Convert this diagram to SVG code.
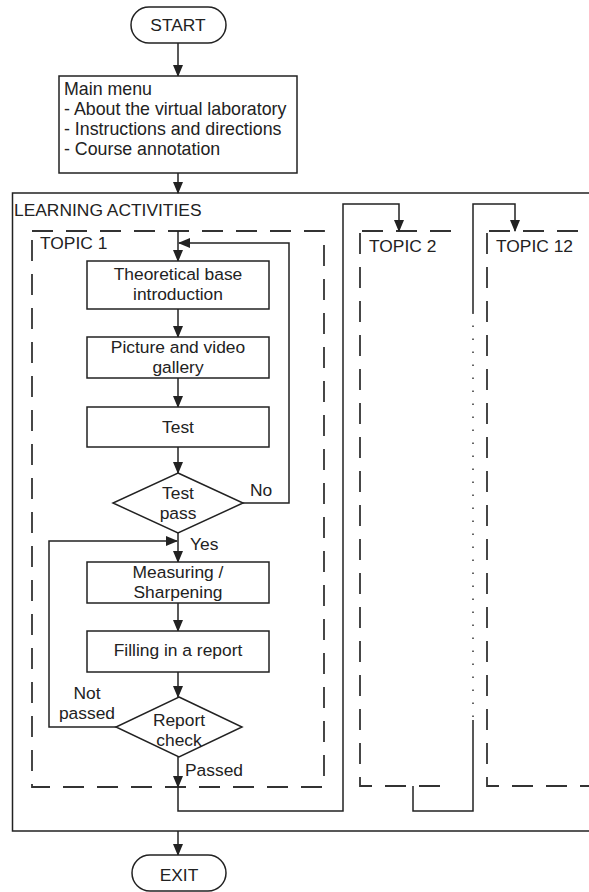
<svg xmlns="http://www.w3.org/2000/svg" width="589" height="892" viewBox="0 0 589 892">
<defs>
<marker id="ah" markerUnits="userSpaceOnUse" markerWidth="12" markerHeight="10" viewBox="0 0 12 10" refX="11" refY="5" orient="auto">
<path d="M0,0 L12,5 L0,10 Z" fill="#222"/>
</marker>
<style>
.box{fill:#fff;stroke:#222;stroke-width:1.5}
.frame{fill:none;stroke:#222;stroke-width:1.5}
.dash{fill:none;stroke:#333;stroke-width:1.8;stroke-dasharray:21 13}
.con{fill:none;stroke:#222;stroke-width:1.5}
.arr{marker-end:url(#ah)}
.dot{fill:none;stroke:#333;stroke-width:1.5;stroke-dasharray:1.5 11.5}
text{font-family:"Liberation Sans",Arial,sans-serif;font-size:17.4px;fill:#222}
.c{text-anchor:middle}
.mm{font-size:17.8px}
</style>
</defs>
<rect width="589" height="892" fill="#fff"/>

<g id="learning-activities">
<path class="frame" d="M589,193 H12.5 V831 H589"/>
<text x="14" y="216">LEARNING ACTIVITIES</text>
</g>
<g id="topic1">
<rect class="dash" x="32" y="231" width="292" height="556"/>
<text x="40" y="249">TOPIC 1</text>
</g>
<g id="topic2">
<path class="dash" d="M362,231 H460 M360,233 V786 H450"/>
<text x="369" y="252">TOPIC 2</text>
</g>
<g id="topic12">
<path class="dash" d="M489,231 H589 M487,233 V786 H589"/>
<text x="496" y="252">TOPIC 12</text>
</g>

<g id="connectors">
<path class="con arr" d="M178,43 V76"/>
<path class="con arr" d="M178,173 V193"/>
<path class="con arr" d="M178,231 V261"/>
<path class="con arr" d="M178,309 V337"/>
<path class="con arr" d="M178,378 V407"/>
<path class="con arr" d="M178,447 V473"/>
<path class="con arr" d="M243,503 H289 V243 H179"/>
<path class="con arr" d="M178,533 V562"/>
<path class="con arr" d="M178,603 V631"/>
<path class="con arr" d="M178,672 V697"/>
<path class="con arr" d="M116,727 H49 V541 H177"/>
<path class="con arr" d="M178,757 V787"/>
<path class="con arr" d="M178,787 V811 H343 V204 H399 V231"/>
<path class="con" d="M413,786 V811 H473 V720"/>
<path class="dot" d="M473,717 V313"/>
<path class="con arr" d="M473,313 V204 H515 V231"/>
<path class="con arr" d="M178,831 V855"/>
</g>

<g id="start">
<rect class="box" x="131" y="7" width="95" height="36" rx="18"/>
<text class="c" x="178" y="31">START</text>
</g>
<g id="main-menu">
<rect class="box" x="59" y="76" width="238" height="97"/>
<text class="mm" x="64" y="95">Main menu</text>
<text class="mm" x="64" y="115">- About the virtual laboratory</text>
<text class="mm" x="64" y="135">- Instructions and directions</text>
<text class="mm" x="64" y="155">- Course annotation</text>
</g>
<g id="theoretical">
<rect class="box" x="87" y="261" width="182" height="48"/>
<text class="c" x="178" y="280">Theoretical base</text>
<text class="c" x="178" y="300">introduction</text>
</g>
<g id="gallery">
<rect class="box" x="87" y="337" width="182" height="41"/>
<text class="c" x="178" y="353">Picture and video</text>
<text class="c" x="178" y="373">gallery</text>
</g>
<g id="test">
<rect class="box" x="87" y="407" width="182" height="40"/>
<text class="c" x="178" y="433">Test</text>
</g>
<g id="test-pass">
<path class="box" d="M178,473 L243,503 L178,533 L113,503 Z"/>
<text class="c" x="178" y="499">Test</text>
<text class="c" x="178" y="519">pass</text>
<text x="250" y="496">No</text>
<text x="190" y="550">Yes</text>
</g>
<g id="measuring">
<rect class="box" x="87" y="562" width="182" height="41"/>
<text class="c" x="178" y="578">Measuring /</text>
<text class="c" x="178" y="598">Sharpening</text>
</g>
<g id="filling">
<rect class="box" x="87" y="631" width="182" height="41"/>
<text class="c" x="178" y="656">Filling in a report</text>
</g>
<g id="report-check">
<path class="box" d="M179,697 L242,727 L179,757 L116,727 Z"/>
<text class="c" x="179" y="726">Report</text>
<text class="c" x="179" y="746">check</text>
<text class="c" x="87" y="699">Not</text>
<text class="c" x="87" y="719">passed</text>
<text x="185" y="776">Passed</text>
</g>
<g id="exit">
<rect class="box" x="132" y="855" width="94" height="36" rx="18"/>
<text class="c" x="179" y="881">EXIT</text>
</g>
</svg>
